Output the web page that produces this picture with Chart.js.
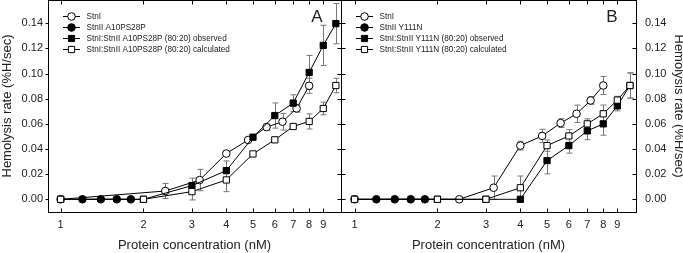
<!DOCTYPE html>
<html>
<head>
<meta charset="utf-8">
<script src="https://cdn.jsdelivr.net/npm/chart.js@4.4.0/dist/chart.umd.min.js"></script>
<style>
  html, body { margin: 0; padding: 0; background: #fff; }
  body { width: 683px; height: 253px; position: relative; overflow: hidden; }
  canvas { position: absolute; top: 0; }
  #graficoA { left: 0; }
  #graficoB { left: 338px; }
</style>
</head>
<body>
<canvas id="graficoA" width="345" height="253"></canvas>
<canvas id="graficoB" width="345" height="253"></canvas>
<script>
// eixos
const xTicks = [1, 2, 3, 4, 5, 6, 7, 8, 9];
const yTicks = [0, 0.02, 0.04, 0.06, 0.08, 0.10, 0.12, 0.14];

// StnI (círculos abertos)
const stnIConc = [1, 2.4, 3.2, 4.0, 4.8, 5.6, 6.4, 7.2, 8.0];
const stnIRateA = [0, 0.0066, 0.0153, 0.0364, 0.0472, 0.0574, 0.0617, 0.0723, 0.0903];
const stnIErrA = [0, 0.006, 0.0085, 0, 0, 0.0024, 0.0066, 0.003, 0.006];
const stnIRateB = [0, 0, 0.0092, 0.0427, 0.0504, 0.0606, 0.068, 0.0786, 0.0905];
const stnIErrB = [0, 0, 0.0093, 0.0035, 0.0053, 0.0035, 0.0069, 0.003, 0.0072];

// mutantes StnII (círculos cheios)
const mutConc = [1.2, 1.4, 1.6, 1.8];
const mutRateA = [0, 0, 0, 0];
const mutRateB = [0, 0, 0, 0];

// misturas 80:20
const mixConc = [1, 2, 3, 4, 5, 6, 7, 8, 9, 10];
const obsRateA = [0, 0, 0.0109, 0.0228, 0.0494, 0.0666, 0.0765, 0.1009, 0.1224, 0.1397];
const obsErrA = [0, 0, 0.006, 0.0077, 0, 0.01, 0.0066, 0.0135, 0.016, 0.016];
const calcRateA = [0, 0, 0.0061, 0.0154, 0.0361, 0.0473, 0.0579, 0.0619, 0.0722, 0.0905];
const calcErrA = [0, 0, 0.0066, 0.0093, 0, 0, 0, 0.006, 0.005, 0.0058];
const obsRateB = [0, 0, 0, 0, 0.0308, 0.0427, 0.0544, 0.060, 0.0743, 0.0905];
const obsErrB = [0, 0, 0, 0, 0.0106, 0.006, 0.007, 0.009, 0.004, 0.01];
const calcRateB = [0, 0, 0, 0.0092, 0.0427, 0.0504, 0.060, 0.068, 0.0789, 0.0905];
const calcErrB = [0, 0, 0, 0.0093, 0.0045, 0.005, 0.004, 0.007, 0.003, 0.01];

const fonte = 'Liberation Sans, Arial, sans-serif';

function serie(label, conc, taxa, erros, estilo, cor, ordem) {
  return {
    label: label,
    data: conc.map((c, i) => ({ x: c, y: taxa[i] })),
    erros: erros,
    borderColor: '#000',
    borderWidth: 1,
    pointStyle: estilo,
    pointRadius: estilo === 'rect' ? 4.4 : 3.8,
    pointBackgroundColor: cor,
    pointBorderColor: '#000',
    pointBorderWidth: 1,
    tension: 0,
    order: ordem
  };
}

const moldura = {
  id: 'moldura',
  beforeDatasetsDraw(chart) {
    const ctx = chart.ctx;
    const ys = chart.scales.y;
    ctx.save();
    ctx.strokeStyle = '#777';
    ctx.lineWidth = 1;
    chart.data.datasets.forEach((ds, i) => {
      if (!ds.erros) return;
      const meta = chart.getDatasetMeta(i);
      meta.data.forEach((pt, j) => {
        const e = ds.erros[j];
        if (!e) return;
        const v = ds.data[j].y;
        const y1 = ys.getPixelForValue(v + e);
        const y2 = ys.getPixelForValue(v - e);
        const x = Math.round(pt.x) + 0.5;
        ctx.beginPath();
        ctx.moveTo(x, y1); ctx.lineTo(x, y2);
        ctx.moveTo(x - 3, y1); ctx.lineTo(x + 3, y1);
        ctx.moveTo(x - 3, y2); ctx.lineTo(x + 3, y2);
        ctx.stroke();
      });
    });
    ctx.restore();
  },
  afterDraw(chart, args, opts) {
    const ctx = chart.ctx;
    const a = chart.chartArea;
    const xs = chart.scales.x, ys = chart.scales.y;
    const l = Math.round(a.left) + 0.5, r = Math.round(a.right) + 0.5;
    const t = Math.round(a.top) + 0.5, b = Math.round(a.bottom) + 0.5;
    ctx.save();
    ctx.strokeStyle = '#000';
    ctx.lineWidth = 1;
    ctx.strokeRect(l, t, r - l, b - t);
    ctx.beginPath();
    xTicks.forEach(v => {
      const px = Math.round(xs.getPixelForValue(v)) + 0.5;
      ctx.moveTo(px, b); ctx.lineTo(px, b - 4);
      ctx.moveTo(px, t); ctx.lineTo(px, t + 4);
    });
    yTicks.forEach(v => {
      const py = Math.round(ys.getPixelForValue(v)) + 0.5;
      if (opts.esqFora) { ctx.moveTo(l - 3, py); ctx.lineTo(l, py); }
      else { ctx.moveTo(l, py); ctx.lineTo(l + 4, py); }
      ctx.moveTo(r, py); ctx.lineTo(r - 4, py);
    });
    ctx.stroke();

    // legenda
    ctx.font = '8.2px ' + fonte;
    ctx.textBaseline = 'middle';
    ctx.textAlign = 'left';
    chart.data.datasets.forEach((ds, i) => {
      const yy = Math.round(a.top + 15.5 + i * 11) + 0.5;
      const mx = a.left + 23.5;
      ctx.strokeStyle = '#000';
      ctx.beginPath();
      ctx.moveTo(a.left + 15, yy); ctx.lineTo(a.left + 32, yy);
      ctx.stroke();
      ctx.fillStyle = ds.pointBackgroundColor;
      ctx.beginPath();
      if (ds.pointStyle === 'rect') ctx.rect(mx - 3.1, yy - 3.1, 6.2, 6.2);
      else ctx.arc(mx, yy, 3.8, 0, Math.PI * 2);
      ctx.fill();
      ctx.stroke();
      ctx.fillStyle = '#222';
      ctx.fillText(ds.label, a.left + 38.5, yy);
    });

    // letra do painel
    ctx.font = '17px ' + fonte;
    ctx.textAlign = 'center';
    ctx.fillStyle = '#222';
    ctx.fillText(opts.letra, a.right - 24, a.top + 17);
    ctx.restore();
  }
};

function semFolga(s) {
  s.paddingTop = 0; s.paddingBottom = 0;
  s.paddingLeft = 0; s.paddingRight = 0;
}

function criarPainel(id, cfg) {
  new Chart(document.getElementById(id), {
    type: 'line',
    data: { datasets: cfg.series },
    options: {
      responsive: false,
      animation: false,
      events: [],
      layout: { padding: cfg.padding, autoPadding: false },
      plugins: {
        legend: { display: false },
        tooltip: { enabled: false },
        moldura: { letra: cfg.letra, esqFora: cfg.esqFora }
      },
      scales: {
        x: {
          type: 'logarithmic',
          min: cfg.xMin,
          max: cfg.xMax,
          afterBuildTicks: s => { s.ticks = xTicks.map(v => ({ value: v })); },
          afterFit: s => { s.height = 41; semFolga(s); },
          grid: { display: false, drawTicks: false },
          border: { display: false },
          ticks: {
            autoSkip: false, maxRotation: 0, minRotation: 0, padding: 6,
            color: '#222', font: { family: fonte, size: 11 },
            callback: v => String(v)
          },
          title: {
            display: true, text: 'Protein concentration (nM)', color: '#222',
            font: { family: fonte, size: 13 }, padding: 0
          }
        },
        y: {
          position: cfg.yPos,
          min: -0.0101,
          max: 0.1585,
          afterBuildTicks: s => { s.ticks = yTicks.map(v => ({ value: v })); },
          afterFit: s => { s.width = cfg.yWidth; semFolga(s); },
          grid: { display: false, drawTicks: false },
          border: { display: false },
          ticks: {
            padding: cfg.yPad,
            color: '#222', font: { family: fonte, size: 11 },
            callback: v => v.toFixed(2)
          },
          title: {
            display: true, text: 'Hemolysis rate (%H/sec)', color: '#222',
            font: { family: fonte, size: 13 }, padding: cfg.titlePad
          }
        }
      }
    },
    plugins: [moldura]
  });
}

window.onload = function () {
  criarPainel('graficoA', {
    letra: 'A', esqFora: true, yPos: 'left', yWidth: 48, yPad: 5,
    titlePad: 0, xMin: 0.9, xMax: 10.44,
    padding: { left: 0, right: 4, top: 0, bottom: 0 },
    series: [
      serie('StnI', stnIConc, stnIRateA, stnIErrA, 'circle', '#fff', 4),
      serie('StnII A10PS28P', mutConc, mutRateA, null, 'circle', '#000', 3),
      serie('StnI:StnII A10PS28P (80:20) observed', mixConc, obsRateA, obsErrA, 'rect', '#000', 2),
      serie('StnI:StnII A10PS28P (80:20) calculated', mixConc, calcRateA, calcErrA, 'rect', '#fff', 1)
    ]
  });
  criarPainel('graficoB', {
    letra: 'B', esqFora: false, yPos: 'right', yWidth: 47, yPad: 9,
    titlePad: { top: -3, bottom: 0 }, xMin: 0.893, xMax: 10.52,
    padding: { left: 3, right: 0, top: 0, bottom: 0 },
    series: [
      serie('StnI', stnIConc, stnIRateB, stnIErrB, 'circle', '#fff', 4),
      serie('StnII Y111N', mutConc, mutRateB, null, 'circle', '#000', 3),
      serie('StnI:StnII Y111N (80:20) observed', mixConc, obsRateB, obsErrB, 'rect', '#000', 2),
      serie('StnI:StnII Y111N (80:20) calculated', mixConc, calcRateB, calcErrB, 'rect', '#fff', 1)
    ]
  });
};
</script>
</body>
</html>
